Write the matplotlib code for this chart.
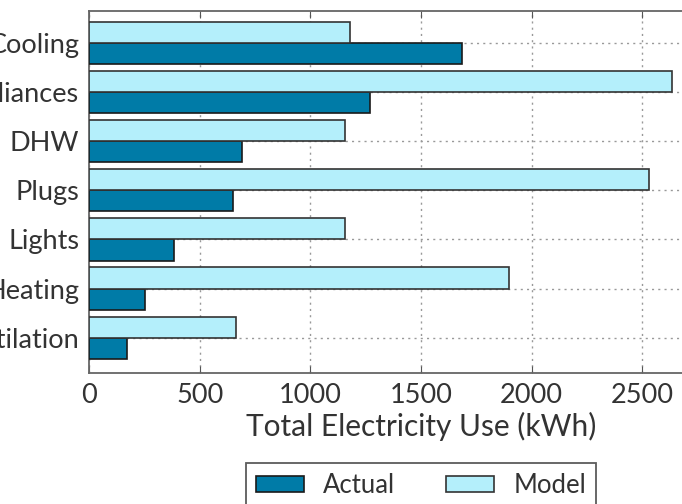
import matplotlib.pyplot as plt
import numpy as np

categories = ['Ventilation', 'Heating', 'Lights', 'Plugs', 'DHW', 'Appliances', 'Cooling']
actual = [170, 253, 384, 652, 690, 1269, 1684]
model = [663, 1897, 1158, 2530, 1158, 2632, 1180]

dark = '#007ba7'
light = '#b4effb'
text_col = '#333333'

plt.rcParams['font.family'] = ['Lato', 'DejaVu Sans']

fig = plt.figure(figsize=(6.82, 5.04), dpi=100)
# axes runs past the right edge of the figure (x up to 3000)
ax_w = 664
ax = fig.add_axes([89 / 682, 1 - 373 / 504, ax_w / 682, 362 / 504])

y = np.arange(len(categories))
h = 0.43
ax.barh(y - h / 2, actual, height=h, color=dark, edgecolor='#1a1a1a', linewidth=1.2,
        label='Actual', zorder=3)
ax.barh(y + h / 2, model, height=h, color=light, edgecolor='#333333', linewidth=1.2,
        label='Model', zorder=3)

ax.set_xlim(0, 3000)
ax.set_ylim(-0.72, 6.65)
ax.set_xticks([0, 500, 1000, 1500, 2000, 2500])
ax.set_yticks(y)
ax.set_yticklabels(categories)
ax.tick_params(direction='in', top=True, right=True, length=5, color='#555555',
               labelsize=19.5, labelcolor=text_col)
ax.tick_params(axis='x', pad=7)
ax.tick_params(axis='y', pad=7)
ax.grid(True, linestyle=(0, (1.5, 3)), color='#999999', linewidth=1, zorder=0)
for s in ax.spines.values():
    s.set_color('#666666')
    s.set_linewidth(1.3)

ax.set_xlabel('Total Electricity Use (kWh)', fontsize=21.5, color=text_col, labelpad=3)

leg = ax.legend(loc='upper center', bbox_to_anchor=((421 - 89) / ax_w, (373 - 463) / 362),
                ncol=2, fontsize=18.5, frameon=True, fancybox=False, edgecolor='#333333',
                handlelength=1.85, handleheight=0.6, handletextpad=0.75,
                columnspacing=2.0, borderpad=0.4, borderaxespad=0)
for t in leg.get_texts():
    t.set_color(text_col)
leg.get_frame().set_linewidth(1.3)

fig.savefig('out.png', dpi=100)
